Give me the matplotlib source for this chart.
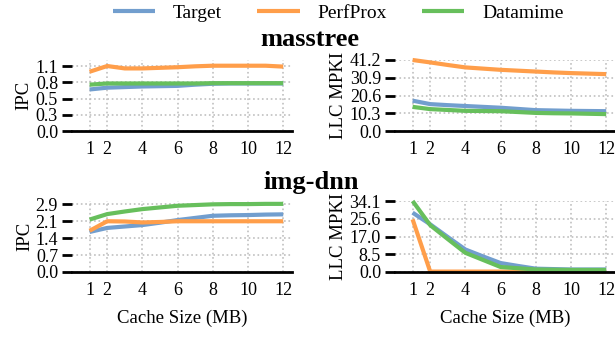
import numpy as np
import matplotlib
matplotlib.use("Agg")
import matplotlib.pyplot as plt

plt.rcParams["font.family"] = ["Liberation Serif", "DejaVu Serif"]

cache_mb = [1, 2, 3, 4, 5, 6, 7, 8, 9, 10, 11, 12]
xticks = [1, 2, 4, 6, 8, 10, 12]
series = ["Target", "PerfProx", "Datamime"]
colors = ["#729ECE", "#FF9E4A", "#67BF5C"]

# masstree
mt_ipc = {
    "Target": [0.69, 0.72, 0.73, 0.74, 0.745, 0.75, 0.77, 0.785, 0.79, 0.79, 0.79, 0.79],
    "PerfProx": [0.985, 1.08, 1.04, 1.04, 1.05, 1.06, 1.075, 1.085, 1.085, 1.085, 1.085, 1.07],
    "Datamime": [0.77, 0.79, 0.79, 0.79, 0.79, 0.79, 0.79, 0.795, 0.795, 0.795, 0.795, 0.795],
}
mt_mpki = {
    "Target": [17.6, 15.6, 15.0, 14.5, 14.0, 13.5, 12.8, 12.1, 11.9, 11.7, 11.6, 11.5],
    "PerfProx": [41.2, 39.8, 38.3, 36.9, 36.2, 35.5, 35.0, 34.5, 34.0, 33.6, 33.3, 33.0],
    "Datamime": [14.0, 12.7, 12.2, 11.7, 11.6, 11.5, 11.0, 10.5, 10.3, 10.2, 10.0, 9.8],
}
# img-dnn
id_ipc = {
    "Target": [1.68, 1.85, 1.91, 1.97, 2.07, 2.18, 2.27, 2.36, 2.38, 2.39, 2.41, 2.42],
    "PerfProx": [1.73, 2.13, 2.12, 2.08, 2.1, 2.13, 2.13, 2.13, 2.13, 2.13, 2.13, 2.13],
    "Datamime": [2.2, 2.43, 2.54, 2.64, 2.71, 2.78, 2.81, 2.84, 2.85, 2.85, 2.86, 2.86],
}
id_mpki = {
    "Target": [28.5, 22.9, 16.8, 10.8, 7.5, 4.3, 2.9, 1.6, 1.4, 1.2, 1.2, 1.2],
    "PerfProx": [25.3, 0.2, 0.2, 0.2, 0.2, 0.2, 0.2, 0.2, 0.2, 0.2, 0.2, 0.2],
    "Datamime": [34.1, 22.5, 15.8, 9.2, 5.8, 2.4, 1.8, 1.2, 1.1, 1.0, 1.0, 1.0],
}

panels = [
    (mt_ipc, "IPC", 1.08, 1.18, ["0.0", "0.3", "0.5", "0.8", "1.1"]),
    (mt_mpki, "LLC MPKI", 41.2, 41.2, ["0.0", "10.3", "20.6", "30.9", "41.2"]),
    (id_ipc, "IPC", 2.85, 2.98, ["0.0", "0.7", "1.4", "2.1", "2.9"]),
    (id_mpki, "LLC MPKI", 34.1, 34.1, ["0.0", "8.5", "17.0", "25.6", "34.1"]),
]

fig = plt.figure(figsize=(6.15, 3.39), dpi=100)
W, H = 615, 339
boxes = [(72, 60), (395, 60), (72, 201), (395, 201)]

for (data, ylabel, tickmax, ytop, ylabels), (px, py) in zip(panels, boxes):
    ax = fig.add_axes([px / W, 1 - (py + 71) / H, 220 / W, 71 / H])
    for name, c in zip(series, colors):
        ax.plot(cache_mb, data[name], color=c, lw=3, label=name,
                solid_capstyle="butt", clip_on=False)
    ax.set_xlim(0, 12.5)
    ax.set_ylim(0, ytop)
    ax.set_xticks(xticks)
    ax.set_yticks(np.linspace(0, tickmax, 5))
    ax.set_yticklabels(ylabels)
    for s in ["top", "right", "left"]:
        ax.spines[s].set_visible(False)
    ax.spines["bottom"].set_linewidth(2)
    ax.tick_params(axis="x", length=0, pad=7, labelsize=13)
    ax.tick_params(axis="y", length=7, width=2, pad=3, labelsize=13)
    ax.grid(True, linestyle=":", color="#c0c0c0", lw=1.2)
    ax.set_axisbelow(True)
    ax.set_ylabel(ylabel, fontsize=13.5, labelpad=2)
    if py > 100:
        ax.set_xlabel("Cache Size (MB)", fontsize=13.5, labelpad=8)

fig.text(310 / W, 1 - 40 / H, "masstree", ha="center", va="center",
         fontsize=19, fontweight="bold")
fig.text(311 / W, 1 - 182 / H, "img-dnn", ha="center", va="center",
         fontsize=19, fontweight="bold")

handles = fig.axes[0].get_lines()
fig.legend(handles, series, loc="upper center", ncol=3,
           bbox_to_anchor=(338 / W, 1.04), frameon=False, fontsize=14,
           handlelength=2.2, columnspacing=1.8, handletextpad=0.9)

fig.savefig("out.png", dpi=100)
